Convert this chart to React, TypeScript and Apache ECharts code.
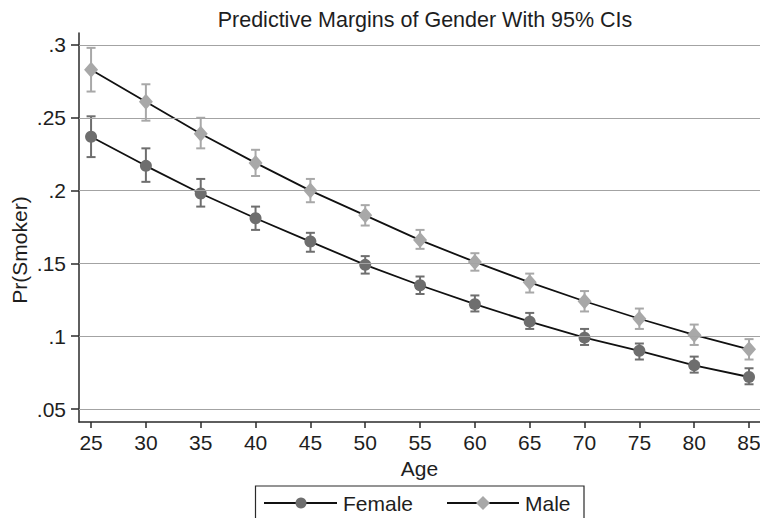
import React, { useEffect, useRef } from "react";
import * as echarts from "echarts";

const ages = [25, 30, 35, 40, 45, 50, 55, 60, 65, 70, 75, 80, 85];
const femaleMargin = [0.237, 0.217, 0.198, 0.181, 0.165, 0.149, 0.135, 0.122, 0.110, 0.099, 0.090, 0.080, 0.072];
const femaleLow = [0.223, 0.206, 0.189, 0.173, 0.158, 0.143, 0.129, 0.117, 0.105, 0.094, 0.084, 0.075, 0.067];
const femaleHigh = [0.251, 0.229, 0.208, 0.189, 0.171, 0.155, 0.141, 0.128, 0.116, 0.105, 0.095, 0.086, 0.078];
const maleMargin = [0.283, 0.261, 0.239, 0.219, 0.200, 0.183, 0.166, 0.151, 0.137, 0.124, 0.112, 0.101, 0.091];
const maleLow = [0.268, 0.248, 0.229, 0.210, 0.192, 0.176, 0.160, 0.145, 0.130, 0.117, 0.105, 0.094, 0.084];
const maleHigh = [0.298, 0.273, 0.250, 0.228, 0.208, 0.190, 0.173, 0.157, 0.143, 0.131, 0.119, 0.108, 0.098];
const yTicks = [0.05, 0.1, 0.15, 0.2, 0.25, 0.3];
const xTicks = [25, 30, 35, 40, 45, 50, 55, 60, 65, 70, 75, 80, 85];

const FONT = "'Liberation Sans', Arial, Helvetica, sans-serif";
const FEMALE_COLOR = "#6e6e6e";
const MALE_COLOR = "#a8a8a8";
const TEXT = "#1e1e1e";
const FS = 21;

function errorSeries(name: string, low: number[], high: number[], color: string) {
  return {
    type: "custom",
    name,
    z: 2,
    silent: true,
    encode: { x: 0, y: [1, 2] },
    data: ages.map((a, i) => [a, low[i], high[i]]),
    renderItem: (params: any, api: any) => {
      const x = api.value(0);
      const lo = api.coord([x, api.value(1)]);
      const hi = api.coord([x, api.value(2)]);
      const hw = 4.5;
      const style = { stroke: color, lineWidth: 2 };
      return {
        type: "group",
        children: [
          { type: "line", shape: { x1: lo[0], y1: lo[1], x2: hi[0], y2: hi[1] }, style },
          { type: "line", shape: { x1: lo[0] - hw, y1: lo[1], x2: lo[0] + hw, y2: lo[1] }, style },
          { type: "line", shape: { x1: hi[0] - hw, y1: hi[1], x2: hi[0] + hw, y2: hi[1] }, style },
        ],
      };
    },
  };
}

export default function App() {
  const ref = useRef<HTMLDivElement>(null);
  useEffect(() => {
    if (!ref.current) return;
    const chart = echarts.init(ref.current, undefined, { renderer: "svg" });
    const legendY = 503;
    chart.setOption({
      animation: false,
      backgroundColor: "#ffffff",
      textStyle: { fontFamily: FONT },
      title: {
        text: "Predictive Margins of Gender With 95% CIs",
        left: 420,
        top: 4,
        textAlign: "center",
        textStyle: { fontFamily: FONT, fontSize: 21.5, fontWeight: "normal", color: TEXT },
      },
      grid: { left: 79, right: 0, top: 33, bottom: 96, containLabel: false, outerBoundsMode: "none" },
      xAxis: {
        type: "value",
        min: 23.9,
        max: 86,
        name: "Age",
        nameLocation: "middle",
        nameGap: 34,
        nameTextStyle: { fontFamily: FONT, fontSize: FS, color: TEXT },
        axisLine: { show: true, lineStyle: { color: "#2a2a2a", width: 1.5 } },
        axisTick: { show: true, length: 6, customValues: xTicks, lineStyle: { color: "#2a2a2a", width: 1.5 } },
        axisLabel: { customValues: xTicks, fontFamily: FONT, fontSize: FS, color: TEXT, margin: 10 },
        splitLine: { show: false },
      },
      yAxis: {
        type: "value",
        min: 0.0411,
        max: 0.3082,
        axisLine: { show: true, lineStyle: { color: "#2a2a2a", width: 1.5 } },
        axisTick: { show: true, length: 8, customValues: yTicks, lineStyle: { color: "#2a2a2a", width: 1.5 } },
        axisLabel: {
          customValues: yTicks,
          fontFamily: FONT,
          fontSize: FS,
          color: TEXT,
          margin: 13,
          formatter: (v: number) => String(Number(v.toFixed(2))).replace(/^0/, ""),
        },
        splitLine: { show: false },
      },
      series: [
        {
          type: "line",
          name: "grid",
          z: 1,
          data: [],
          silent: true,
          markLine: {
            silent: true,
            symbol: ["none", "none"],
            label: { show: false },
            lineStyle: { color: "#a3a3a3", type: "solid", width: 1.2 },
            data: yTicks.map((v) => ({ yAxis: v })),
          },
        },
        errorSeries("Female CI", femaleLow, femaleHigh, FEMALE_COLOR),
        errorSeries("Male CI", maleLow, maleHigh, MALE_COLOR),
        {
          type: "line",
          name: "Female",
          z: 3,
          data: ages.map((a, i) => [a, femaleMargin[i]]),
          lineStyle: { color: "#111", width: 1.8 },
          symbol: "circle",
          symbolSize: 12,
          itemStyle: { color: FEMALE_COLOR },
          showSymbol: true,
        },
        {
          type: "line",
          name: "Male",
          z: 3,
          data: ages.map((a, i) => [a, maleMargin[i]]),
          lineStyle: { color: "#111", width: 1.8 },
          symbol: "diamond",
          symbolSize: [14, 16],
          itemStyle: { color: MALE_COLOR },
          showSymbol: true,
        },
      ],
      graphic: [
        {
          type: "text",
          x: 19,
          y: 250,
          rotation: Math.PI / 2,
          style: { text: "Pr(Smoker)", fontFamily: FONT, fontSize: FS, fill: TEXT, align: "center", verticalAlign: "middle" },
        },
        {
          type: "rect",
          shape: { x: 255.5, y: 486, width: 328.5, height: 40 },
          style: { fill: "#fff", stroke: "#2a2a2a", lineWidth: 1.2 },
        },
        { type: "line", shape: { x1: 264, y1: legendY, x2: 337, y2: legendY }, style: { stroke: "#111", lineWidth: 1.8 } },
        { type: "circle", shape: { cx: 301, cy: legendY, r: 5.5 }, style: { fill: FEMALE_COLOR } },
        {
          type: "text",
          x: 343,
          y: legendY,
          style: { text: "Female", fontFamily: FONT, fontSize: FS, fill: TEXT, verticalAlign: "middle", align: "left" },
        },
        { type: "line", shape: { x1: 447, y1: legendY, x2: 519, y2: legendY }, style: { stroke: "#111", lineWidth: 1.8 } },
        {
          type: "polygon",
          shape: { points: [[483, legendY - 7], [490, legendY], [483, legendY + 7], [476, legendY]] },
          style: { fill: MALE_COLOR },
        },
        {
          type: "text",
          x: 525,
          y: legendY,
          style: { text: "Male", fontFamily: FONT, fontSize: FS, fill: TEXT, verticalAlign: "middle", align: "left" },
        },
      ],
    });
    return () => chart.dispose();
  }, []);
  return <div ref={ref} style={{ width: 760, height: 518, position: "fixed", left: 0, top: 0 }} />;
}
